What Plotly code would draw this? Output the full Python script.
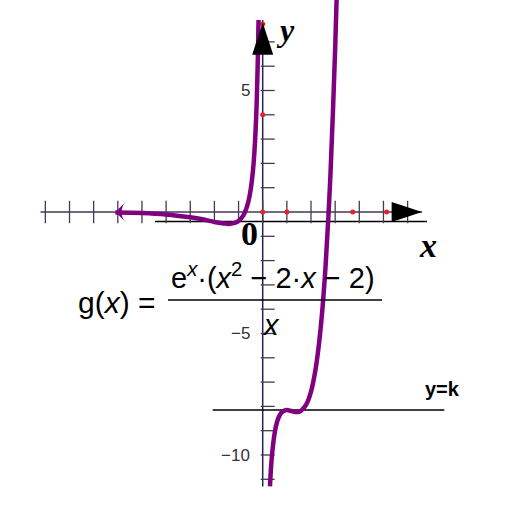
import plotly.graph_objects as go

# ---- data ----
left_x = [-6.1, -5, -4, -3, -2.5, -2, -1.6, -1.4, -1.2, -1.0, -0.8, -0.7, -0.6,
          -0.5, -0.4, -0.35, -0.3, -0.25, -0.2, -0.18, -0.172]
left_y = [-0.02, -0.04, -0.10, -0.22, -0.30, -0.41, -0.47, -0.49, -0.46, -0.37,
          -0.14, 0.08, 0.40, 0.91, 1.74, 2.37, 3.24, 4.48, 6.39, 7.46, 7.9]
right_x = [0.3, 0.35, 0.4, 0.5, 0.6, 0.7, 0.8, 0.9, 1.0, 1.1, 1.2, 1.3, 1.41,
           1.5, 1.6, 1.8, 2.0, 2.2, 2.4, 2.6, 2.8, 3.0, 3.1]
right_y = [-11.29, -10.45, -9.85, -9.07, -8.62, -8.37, -8.23, -8.17, -8.15, -8.17,
           -8.19, -8.22, -8.23, -8.22, -8.17, -7.93, -7.39, -6.40, -4.78, -2.28,
           1.41, 6.70, 10.10]

x_ticks = list(range(-9, 7))
y_ticks = [v for v in range(-11, 8) if v != 0]
y_label_vals = [5, -5, -10]
y_label_text = ["5", "\u22125", "\u221210"]

red_x = [0, 1, 3.73, 5.13, 0, 0]
red_y = [0, 0, 0, 0, 4, 7.74]

k_value = -8.15
x_axis_ends = [-9.2, 6.6]
y_axis_ends = [-11.3, 7.9]
offset_line_x = [-4.46, 6.8]
offset_line_y = -0.39
k_line_x = [-2.07, 7.52]

# ---- geometry of the page ----
W = H = 512
PX_X = 24.15   # pixels per x unit
PX_Y = 24.3    # pixels per y unit
X0, Y0 = 262.7, 212.0
xr = [-X0 / PX_X, (W - X0) / PX_X]
yr = [-(H - Y0) / PX_Y, Y0 / PX_Y]

AXIS_X_COL = "#453a52"
AXIS_Y_COL = "#23235a"
CURVE_COL = "#800080"

fig = go.Figure()

# axes lines
fig.add_trace(go.Scatter(x=x_axis_ends, y=[0, 0], mode="lines",
                         line=dict(color=AXIS_X_COL, width=1.5), hoverinfo="skip"))
fig.add_trace(go.Scatter(x=offset_line_x, y=[offset_line_y] * 2, mode="lines",
                         line=dict(color="black", width=1.5), hoverinfo="skip"))
fig.add_trace(go.Scatter(x=[0, 0], y=y_axis_ends, mode="lines",
                         line=dict(color=AXIS_Y_COL, width=1.5), hoverinfo="skip"))
fig.add_trace(go.Scatter(x=k_line_x, y=[k_value] * 2, mode="lines",
                         line=dict(color="black", width=1.5), hoverinfo="skip"))

# ticks
fig.add_trace(go.Scatter(x=x_ticks, y=[0] * len(x_ticks), mode="markers",
                         marker=dict(symbol="line-ns", size=16,
                                     line=dict(color=AXIS_X_COL, width=1.3)),
                         hoverinfo="skip"))
tick_off = 5.0 / PX_X
fig.add_trace(go.Scatter(x=[tick_off] * len(y_ticks), y=y_ticks, mode="markers",
                         marker=dict(symbol="line-ew", size=10,
                                     line=dict(color=AXIS_X_COL, width=1.3)),
                         hoverinfo="skip"))

# red dots
fig.add_trace(go.Scatter(x=red_x, y=red_y, mode="markers",
                         marker=dict(color="#e8202a", size=5), hoverinfo="skip"))

# curve
fig.add_trace(go.Scatter(x=left_x, y=left_y, mode="lines",
                         line=dict(color=CURVE_COL, width=4.5, shape="spline", smoothing=0.8),
                         hoverinfo="skip"))
fig.add_trace(go.Scatter(x=right_x, y=right_y, mode="lines",
                         line=dict(color=CURVE_COL, width=4.5, shape="spline", smoothing=0.8),
                         hoverinfo="skip"))

# arrowheads
fig.add_trace(go.Scatter(x=[x_axis_ends[1]], y=[0], mode="markers",
                         marker=dict(symbol="arrow", angle=90, size=32, color="black"),
                         hoverinfo="skip"))
fig.add_trace(go.Scatter(x=[0], y=[y_axis_ends[1] - 0.1], mode="markers",
                         marker=dict(symbol="arrow", angle=0, size=34, color="black"),
                         hoverinfo="skip"))
fig.add_trace(go.Scatter(x=[left_x[0]], y=[0], mode="markers",
                         marker=dict(symbol="arrow-wide", angle=270, size=15, color=CURVE_COL),
                         hoverinfo="skip"))

ann = []
# y tick labels
for v, t in zip(y_label_vals, y_label_text):
    ann.append(dict(x=0, y=v, xref="x", yref="y", text=t, showarrow=False,
                    xanchor="right", xshift=-11,
                    font=dict(family="Liberation Sans, Arial", size=17, color="#333333")))


def P(px, py):
    return px / W, 1 - py / H


def add_text(px, py, text, size, family, color="black", xanchor="center"):
    x, y = P(px, py)
    ann.append(dict(x=x, y=y, xref="paper", yref="paper", text=text, showarrow=False,
                    xanchor=xanchor, yanchor="middle",
                    font=dict(family=family, size=size, color=color)))


SERIF = "Liberation Serif, Times New Roman"
SANS = "Liberation Sans, Arial"
add_text(249, 233, "<b>0</b>", 34, SERIF)
add_text(428, 245, "<b><i>x</i></b>", 34, SERIF)
add_text(285, 30, "<b><i>y</i></b>", 32, SERIF)
add_text(442, 389, "<b>y=k</b>", 20, SANS)
add_text(117, 302, "g(<i>x</i>) =", 30, SANS)
add_text(273, 276, "e<sup><i>x</i></sup>\u00b7(<i>x</i><sup>2</sup> \u2212 2\u00b7<i>x</i> \u2212 2)", 29, SANS)
add_text(271, 325, "<i>x</i>", 29, SANS)

fig.update_layout(
    width=W, height=H,
    margin=dict(l=0, r=0, t=0, b=0),
    paper_bgcolor="white", plot_bgcolor="white",
    showlegend=False,
    xaxis=dict(range=xr, visible=False, fixedrange=True),
    yaxis=dict(range=yr, visible=False, fixedrange=True),
    annotations=ann,
    shapes=[dict(type="line", xref="paper", yref="paper",
                 x0=168 / W, x1=382 / W, y0=1 - 300 / H, y1=1 - 300 / H,
                 line=dict(color="black", width=1.5))],
)

fig.write_html("out.html",
               config={"displayModeBar": False, "staticPlot": True},
               post_script="document.body.style.margin='0';document.body.style.overflow='hidden';")
